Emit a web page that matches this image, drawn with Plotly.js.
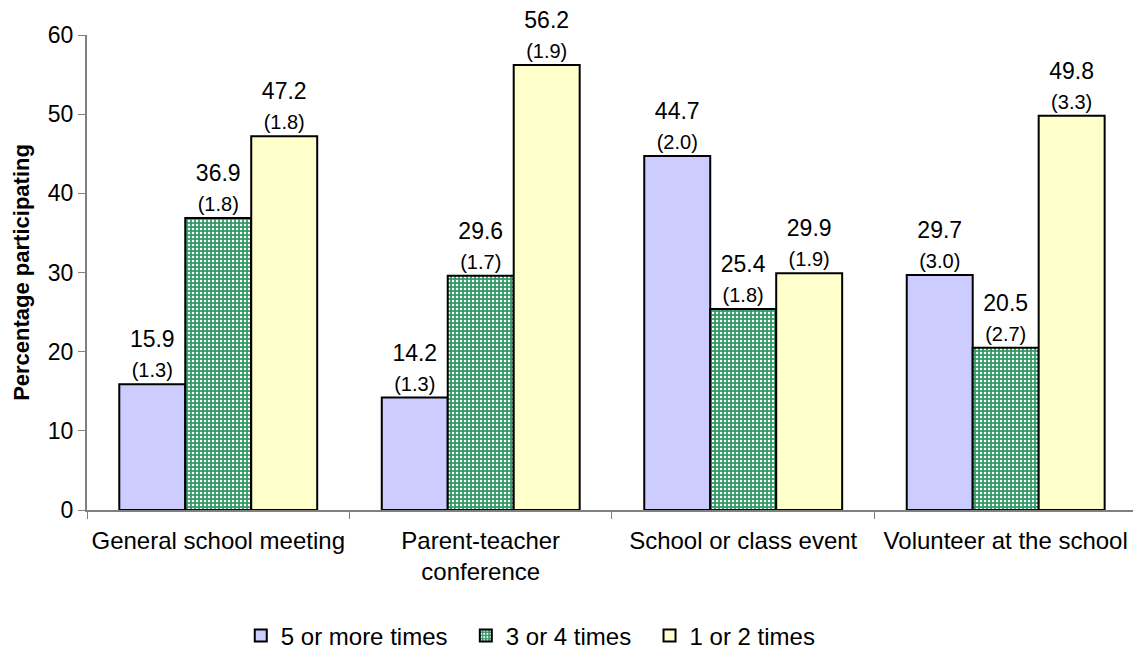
<!DOCTYPE html>
<html>
<head>
<meta charset="utf-8">
<script src="https://cdn.plot.ly/plotly-3.0.1.min.js"></script>
<style>html,body{margin:0;padding:0;background:#fff;}#chart{width:1133px;height:649px;}</style>
</head>
<body>
<div id="chart"></div>
<script>
const categories = ["General school meeting", "Parent-teacher<br>conference", "School or class event", "Volunteer at the school"];
const seriesNames = ["5 or more times", "3 or 4 times", "1 or 2 times"];
const fivePlus = [15.9, 14.2, 44.7, 29.7];
const fivePlusSE = ["1.3", "1.3", "2.0", "3.0"];
const threeFour = [36.9, 29.6, 25.4, 20.5];
const threeFourSE = ["1.8", "1.7", "1.8", "2.7"];
const oneTwo = [47.2, 56.2, 29.9, 49.8];
const oneTwoSE = ["1.8", "1.9", "1.9", "3.3"];

const font = "Arial, 'Liberation Sans', sans-serif";
const legendPad = "\u00a0\u00a0";
function mk(name, vals, se, marker) {
  return {
    type: "bar", name: name + legendPad, x: categories, y: vals, customdata: se,
    texttemplate: "%{y:.1f}<br><span style='font-size:20px'>(%{customdata})</span>",
    textposition: "outside", cliponaxis: false,
    textfont: {family: font, size: 23, color: "#000"},
    marker: marker, hoverinfo: "none"
  };
}
const data = [
  mk(seriesNames[0], fivePlus, fivePlusSE, {color: "#ccccff", line: {color: "#000", width: 2}}),
  mk(seriesNames[1], threeFour, threeFourSE, {color: "#339966", line: {color: "#000", width: 2},
     pattern: {shape: ".", fgcolor: "#ffffff", bgcolor: "#339966", fillmode: "replace", size: 4, solidity: 0.3}}),
  mk(seriesNames[2], oneTwo, oneTwoSE, {color: "#ffffcc", line: {color: "#000", width: 2}})
];
const layout = {
  width: 1133, height: 649,
  margin: {l: 87, r: 0, t: 35, b: 139, autoexpand: false},
  paper_bgcolor: "#fff", plot_bgcolor: "#fff",
  barmode: "group", bargap: 0.246, bargroupgap: 0,
  font: {family: font, color: "#000"},
  showlegend: true,
  legend: {orientation: "h", x: 0.147, xanchor: "left", y: -0.265, yanchor: "middle",
           font: {family: font, size: 24}, traceorder: "normal"},
  xaxis: {range: [-0.5, 3.485], tickson: "boundaries", ticks: "outside", ticklen: 7, tickcolor: "#808080",
          showline: true, linecolor: "#808080", linewidth: 2, showgrid: false, ticklabelstandoff: 8,
          tickangle: 0, tickfont: {family: font, size: 24}, fixedrange: true},
  yaxis: {range: [0, 60], dtick: 10, ticks: "outside", ticklen: 7, tickcolor: "#808080",
          showline: true, linecolor: "#808080", linewidth: 2, showgrid: false, zeroline: false,
          tickfont: {family: font, size: 23},
          title: {text: "<b>Percentage participating</b>", font: {family: font, size: 22}, standoff: 12},
          fixedrange: true}
};
Plotly.newPlot("chart", data, layout, {displayModeBar: false, staticPlot: true});
</script>
</body>
</html>
